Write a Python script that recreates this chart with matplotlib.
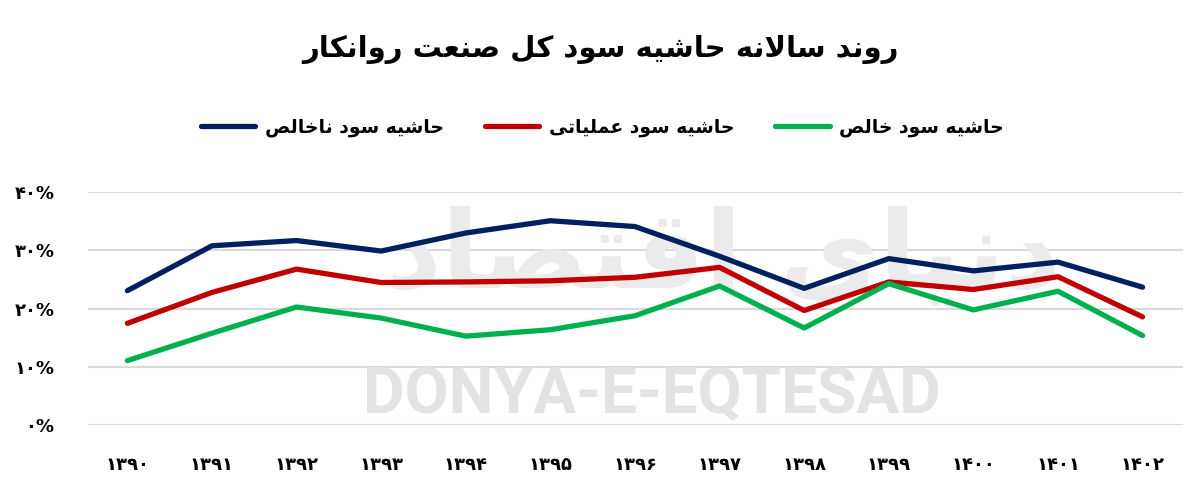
import matplotlib
matplotlib.use('Agg')
import matplotlib.pyplot as plt

# data (percent)
years = ['۱۳۹۰', '۱۳۹۱', '۱۳۹۲', '۱۳۹۳', '۱۳۹۴', '۱۳۹۵', '۱۳۹۶',
         '۱۳۹۷', '۱۳۹۸', '۱۳۹۹', '۱۴۰۰', '۱۴۰۱', '۱۴۰۲']
gross = [23.1, 30.8, 31.7, 29.9, 33.0, 35.1, 34.1, 29.0, 23.5, 28.6, 26.5, 28.0, 23.7]
operating = [17.5, 22.8, 26.8, 24.5, 24.6, 24.8, 25.4, 27.1, 19.7, 24.6, 23.3, 25.5, 18.6]
net = [11.1, 15.8, 20.3, 18.4, 15.3, 16.4, 18.8, 23.9, 16.7, 24.3, 19.8, 23.0, 15.4]
yticks = [0, 10, 20, 30, 40]
ytick_labels = ['۰%', '۱۰%', '۲۰%', '۳۰%', '۴۰%']

title = 'روند سالانه حاشیه سود کل صنعت روانکار'
lbl_gross = 'حاشیه سود ناخالص'
lbl_oper = 'حاشیه سود عملیاتی'
lbl_net = 'حاشیه سود خالص'


# matplotlib has no arabic shaping, so do a small one by hand
FORMS = {  # isolated, final, initial, medial
  'ا': (0xFE8D, 0xFE8E), 'د': (0xFEA9, 0xFEAA), 'ر': (0xFEAD, 0xFEAE),
  'و': (0xFEED, 0xFEEE), 'ز': (0xFEAF, 0xFEB0),
  'ب': (0xFE8F, 0xFE90, 0xFE91, 0xFE92), 'ت': (0xFE95, 0xFE96, 0xFE97, 0xFE98),
  'ح': (0xFEA1, 0xFEA2, 0xFEA3, 0xFEA4), 'خ': (0xFEA5, 0xFEA6, 0xFEA7, 0xFEA8),
  'س': (0xFEB1, 0xFEB2, 0xFEB3, 0xFEB4), 'ش': (0xFEB5, 0xFEB6, 0xFEB7, 0xFEB8),
  'ص': (0xFEB9, 0xFEBA, 0xFEBB, 0xFEBC), 'ع': (0xFEC9, 0xFECA, 0xFECB, 0xFECC),
  'ق': (0xFED5, 0xFED6, 0xFED7, 0xFED8), 'ل': (0xFEDD, 0xFEDE, 0xFEDF, 0xFEE0),
  'م': (0xFEE1, 0xFEE2, 0xFEE3, 0xFEE4), 'ن': (0xFEE5, 0xFEE6, 0xFEE7, 0xFEE8),
  'ه': (0xFEE9, 0xFEEA, 0xFEEB, 0xFEEC), 'ی': (0xFBFC, 0xFBFD, 0xFBFE, 0xFBFF),
  'ک': (0xFB8E, 0xFB8F, 0xFB90, 0xFB91),
}


def dual(c):
  return c in FORMS and len(FORMS[c]) == 4


def fa(text):
  out = []
  i = 0
  n = len(text)
  while i < n:
    c = text[i]
    prev = text[i-1] if i > 0 else ' '
    joins_prev = dual(prev) and c in FORMS
    if c not in FORMS:
      out.append(c)
      i += 1
      continue
    if c == 'ل' and i + 1 < n and text[i+1] == 'ا':
      out.append(chr(0xFEFC if joins_prev else 0xFEFB))
      i += 2
      continue
    nxt = text[i+1] if i + 1 < n else ' '
    joins_next = dual(c) and nxt in FORMS
    f = FORMS[c]
    if joins_prev and joins_next:
      g = f[3]
    elif joins_prev:
      g = f[1]
    elif joins_next:
      g = f[2]
    else:
      g = f[0]
    out.append(chr(g))
    i += 1
  return ''.join(reversed(out))


plt.rcParams['font.family'] = ['DejaVu Sans']
plt.rcParams['font.weight'] = 'bold'

fig = plt.figure(figsize=(12, 4.94), dpi=100)
ax = fig.add_axes([0.073, 0.139, 0.913, 0.472])

x = list(range(len(years)))

# watermark
ax.text(0.515, 0.13, 'DONYA-E-EQTESAD', transform=ax.transAxes, ha='center', va='center',
        fontsize=46, color='#E3E3E3', family='Roboto', fontweight='bold', zorder=1)
ax.text(0.58, 0.72, fa('دنیای اقتصاد'), transform=ax.transAxes, ha='center', va='center',
        fontsize=78, color='#EBEBEB', zorder=1)

ax.plot(x, gross, color='#002060', lw=3.8, solid_capstyle='round', label=fa(lbl_gross), zorder=3)
ax.plot(x, operating, color='#C00000', lw=3.8, solid_capstyle='round', label=fa(lbl_oper), zorder=3)
ax.plot(x, net, color='#00B050', lw=3.8, solid_capstyle='round', label=fa(lbl_net), zorder=3)

ax.set_xlim(-0.47, 12.48)
ax.set_ylim(0, 40)
ax.set_yticks(yticks)
ax.set_yticklabels(ytick_labels)
ax.set_xticks(x)
ax.set_xticklabels(years)
ax.tick_params(axis='y', length=0, pad=24, labelsize=13)
ax.tick_params(axis='x', length=0, pad=22, labelsize=13)
ax.grid(axis='y', color='#D9D9D9', lw=1.5, zorder=0)
ax.set_axisbelow(True)
for s in ax.spines.values():
  s.set_visible(False)

fig.text(0.5, 0.9, fa(title), ha='center', va='center', fontsize=21, fontweight='bold')
fig.legend(loc='center', bbox_to_anchor=(0.502, 0.743), ncol=3, frameon=False,
           fontsize=13.5, handlelength=2.9, columnspacing=2.2, handletextpad=0.5)

fig.savefig('out.png', dpi=100)
